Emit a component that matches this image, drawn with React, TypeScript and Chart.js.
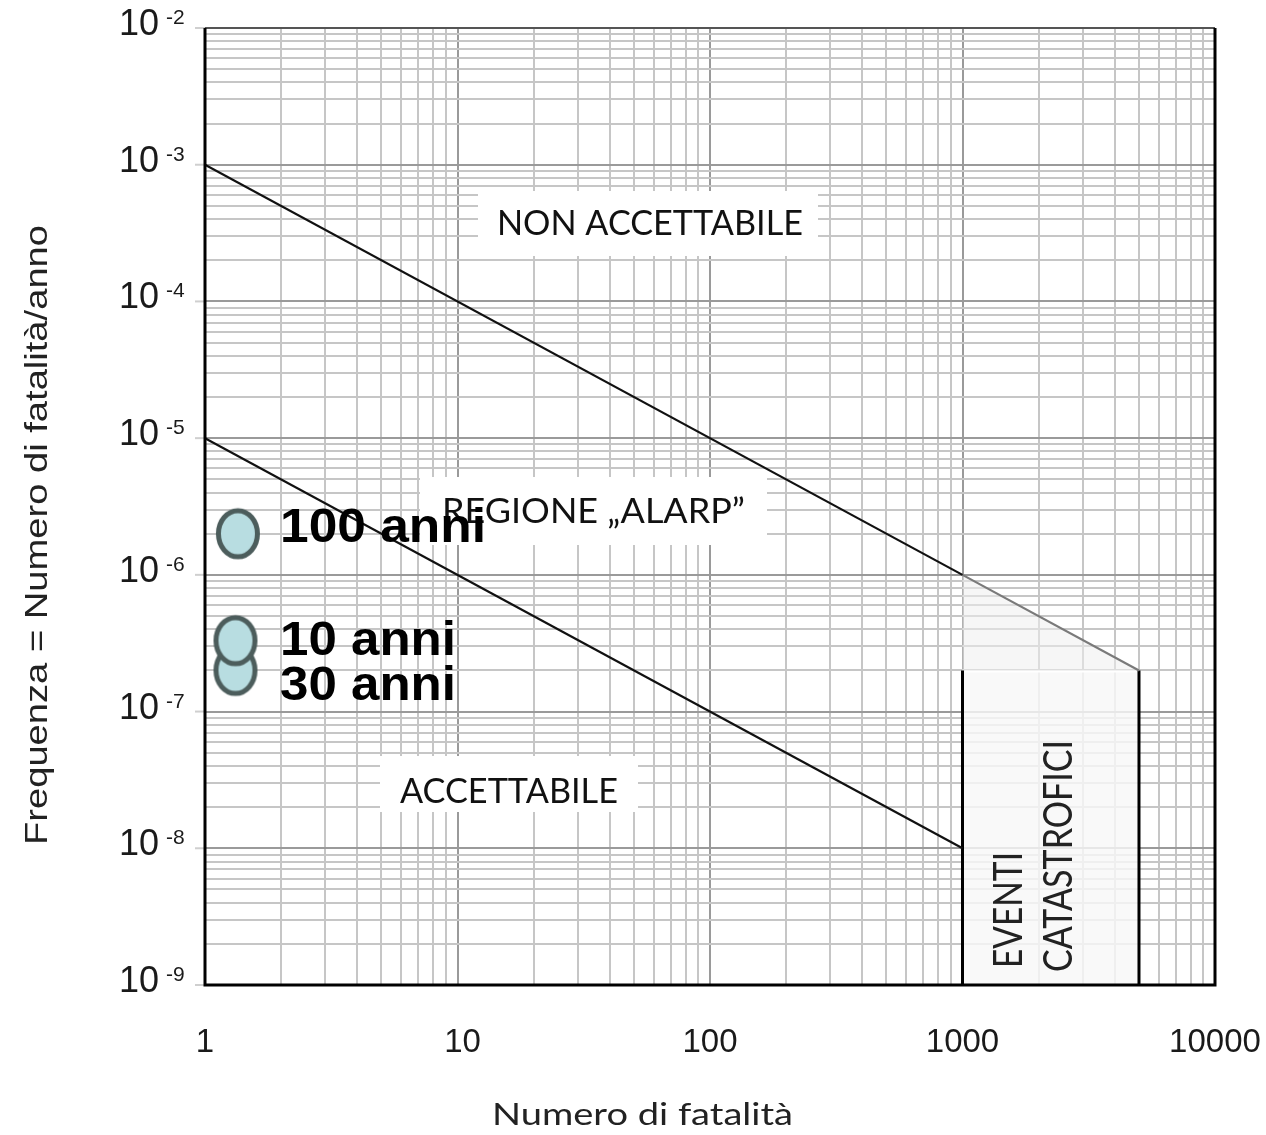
import React, { useEffect, useRef } from "react";
import { Chart, registerables } from "chart.js";

Chart.register(...registerables);

// ---- data ----
const xTickLabels = ["1", "10", "100", "1000", "10000"];
const xTickValues = [1, 10, 100, 1000, 10000];
const yTickExponents = [-2, -3, -4, -5, -6, -7, -8, -9];

const upperLimitX = [1, 1000];
const upperLimitY = [1e-3, 1e-6];
const upperExtX = [1000, 5000];
const upperExtY = [1e-6, 2e-7];
const lowerLimitX = [1, 1000];
const lowerLimitY = [1e-5, 1e-8];
const catastrophicX = [1000, 5000];
const catastrophicY = [1e-9, 2e-7];

const pointNames = ["100 anni", "30 anni", "10 anni"];
const pointX = [1.35, 1.32, 1.32];
const pointY = [2.0e-6, 2.0e-7, 3.3e-7];

const xTitle = "Numero di fatalità";
const yTitle = "Frequenza = Numero di fatalità/anno";
const regionLabels = ["NON ACCETTABILE", "REGIONE \u201EALARP\u201D", "ACCETTABILE"];
const catastrophicLabel = ["EVENTI", "CATASTROFICI"];

function gridValues(minExp: number, maxExp: number) {
  const out: number[] = [];
  for (let e = minExp; e < maxExp; e++) {
    for (let d = 1; d <= 9; d++) out.push(d * Math.pow(10, e));
  }
  out.push(Math.pow(10, maxExp));
  return out;
}

function isDecade(v: number) {
  const l = Math.log10(v);
  return Math.abs(l - Math.round(l)) < 1e-6;
}

function fitText(ctx: CanvasRenderingContext2D, text: string, x: number, y: number, font: string, width: number, rotate = false) {
  ctx.save();
  ctx.font = font;
  ctx.textAlign = "left";
  ctx.textBaseline = "alphabetic";
  const w = ctx.measureText(text).width;
  ctx.translate(x, y);
  if (rotate) ctx.rotate(-Math.PI / 2);
  ctx.scale(width / w, 1);
  ctx.fillText(text, 0, 0);
  ctx.restore();
}

function makeEllipse() {
  const c = document.createElement("canvas");
  c.width = 50;
  c.height = 56;
  const g = c.getContext("2d")!;
  g.beginPath();
  g.ellipse(25, 28, 19.5, 23, 0, 0, Math.PI * 2);
  g.fillStyle = "#b8dde1";
  g.fill();
  g.lineWidth = 5;
  g.strokeStyle = "#4c5d5c";
  g.stroke();
  return c;
}

const backgroundPlugin = {
  id: "bgAnnotations",
  beforeDatasetsDraw(chart: any) {
    const ctx = chart.ctx as CanvasRenderingContext2D;
    const xs = chart.scales.x;
    const ys = chart.scales.y;
    const area = chart.chartArea;
    ctx.save();
    // small stubs left of the axis at decades
    ctx.strokeStyle = "#cfcfcf";
    ctx.lineWidth = 2;
    yTickExponents.forEach((e) => {
      const py = ys.getPixelForValue(Math.pow(10, e));
      ctx.beginPath();
      ctx.moveTo(area.left - 10, py);
      ctx.lineTo(area.left, py);
      ctx.stroke();
    });
    // catastrophic trapezoid (above box)
    const x0 = xs.getPixelForValue(catastrophicX[0]);
    const x1 = xs.getPixelForValue(catastrophicX[1]);
    const yb = ys.getPixelForValue(catastrophicY[0]);
    const yt = ys.getPixelForValue(catastrophicY[1]);
    const ytop = ys.getPixelForValue(upperExtY[0]);
    ctx.beginPath();
    ctx.moveTo(x0, ytop);
    ctx.lineTo(x1, yt);
    ctx.lineTo(x0, yt);
    ctx.closePath();
    ctx.fillStyle = "rgba(238,238,238,0.55)";
    ctx.fill();
    // box
    ctx.fillStyle = "rgba(248,248,248,0.82)";
    ctx.fillRect(x0, yt, x1 - x0, yb - yt);
    ctx.strokeStyle = "#ffffff";
    ctx.lineWidth = 2;
    ctx.beginPath();
    ctx.moveTo(x0 + 2, yt + 1);
    ctx.lineTo(x1 - 2, yt + 1);
    ctx.stroke();
    ctx.strokeStyle = "#000";
    ctx.lineWidth = 3;
    ctx.beginPath();
    ctx.moveTo(x0, yt);
    ctx.lineTo(x0, yb);
    ctx.moveTo(x1, yt);
    ctx.lineTo(x1, yb);
    ctx.stroke();

    // white boxes behind region labels
    ctx.fillStyle = "#ffffff";
    ctx.fillRect(478, 191, 340, 65);
    ctx.fillRect(420, 477, 347, 68);
    ctx.fillRect(380, 756, 258, 56);

    ctx.fillStyle = "#111";
    fitText(ctx, regionLabels[0], 497, 235, "35px Lato", 306);
    fitText(ctx, regionLabels[1], 442, 523, "35px Lato", 303);
    fitText(ctx, regionLabels[2], 400, 803, "35px Lato", 218);

    ctx.fillStyle = "#222";
    fitText(ctx, catastrophicLabel[0], 1022, 968, "40px Lato", 116, true);
    fitText(ctx, catastrophicLabel[1], 1072, 972, "40px Lato", 232, true);
    ctx.restore();
  },
  afterDatasetsDraw(chart: any) {
    const ctx = chart.ctx as CanvasRenderingContext2D;
    const xs = chart.scales.x;
    const ys = chart.scales.y;
    const area = chart.chartArea;
    ctx.save();
    // point labels
    const meta = chart.getDatasetMeta(3);
    const offsets: Record<string, number> = { "100 anni": 8, "30 anni": 30, "10 anni": 14 };
    const widths: Record<string, number> = { "100 anni": 206, "30 anni": 176, "10 anni": 176 };
    ctx.fillStyle = "#000";
    meta.data.forEach((el: any, i: number) => {
      const name = pointNames[i];
      fitText(ctx, name, 280, el.y + offsets[name], "bold 49px 'Liberation Sans'", widths[name]);
    });

    // plot frame
    ctx.strokeStyle = "#555";
    ctx.lineWidth = 2;
    ctx.beginPath();
    ctx.moveTo(area.left, area.top);
    ctx.lineTo(area.right, area.top);
    ctx.stroke();
    ctx.strokeStyle = "#000";
    ctx.lineWidth = 3;
    ctx.beginPath();
    ctx.moveTo(area.left, area.top);
    ctx.lineTo(area.left, area.bottom);
    ctx.lineTo(area.right, area.bottom);
    ctx.lineTo(area.right, area.top);
    ctx.stroke();

    // x tick labels
    const xOff = [0, 5, 0, 0, 0];
    ctx.fillStyle = "#1a1a1a";
    ctx.font = "33px 'Liberation Sans'";
    ctx.textAlign = "center";
    ctx.textBaseline = "alphabetic";
    xTickValues.forEach((v, i) => {
      const px = xs.getPixelForValue(v) + xOff[i];
      ctx.fillText(xTickLabels[i], px, 1052);
    });

    // y tick labels
    yTickExponents.forEach((e) => {
      const py = ys.getPixelForValue(Math.pow(10, e));
      ctx.textAlign = "left";
      ctx.font = "36px 'Liberation Sans'";
      ctx.fillText("10", 119, py + 7);
      ctx.font = "21px 'Liberation Sans'";
      ctx.fillText(String(e), 166, py - 4);
    });

    // axis titles
    ctx.fillStyle = "#222";
    fitText(ctx, xTitle, 492, 1125, "30px Lato", 301);
    fitText(ctx, yTitle, 47, 845, "31px 'Liberation Sans'", 620, true);
    ctx.restore();
  },
};

export default function App() {
  const ref = useRef<HTMLCanvasElement | null>(null);
  useEffect(() => {
    if (!ref.current) return;
    const ellipse = makeEllipse();
    const toPts = (xs: number[], ys: number[]) => xs.map((x, i) => ({ x, y: ys[i] }));
    const chart = new Chart(ref.current, {
      type: "line",
      data: {
        datasets: [
          { data: toPts(upperLimitX, upperLimitY), borderColor: "#111", borderWidth: 2.2, pointRadius: 0, fill: false },
          { data: toPts(upperExtX, upperExtY), borderColor: "#7a7a7a", borderWidth: 2.2, pointRadius: 0, fill: false },
          { data: toPts(lowerLimitX, lowerLimitY), borderColor: "#111", borderWidth: 2.2, pointRadius: 0, fill: false },
          {
            type: "scatter",
            data: toPts(pointX, pointY),
            pointStyle: ellipse as any,
            pointRadius: 22,
            showLine: false,
          } as any,
        ],
      },
      options: {
        animation: false,
        responsive: true,
        maintainAspectRatio: false,
        layout: { padding: { left: 205, right: 51, top: 28, bottom: 150 } },
        plugins: { legend: { display: false }, tooltip: { enabled: false } },
        scales: {
          x: {
            type: "logarithmic",
            min: 1,
            max: 10000,
            afterBuildTicks: (s: any) => {
              s.ticks = gridValues(0, 4).map((v) => ({ value: v }));
            },
            ticks: { display: false },
            border: { display: false },
            grid: {
              drawTicks: false,
              tickLength: 0,
              lineWidth: 2,
              color: (c: any) => (isDecade(c.tick.value) ? "#9a9a9a" : "#c6c6c6"),
            },
          },
          y: {
            type: "logarithmic",
            min: 1e-9,
            max: 1e-2,
            afterBuildTicks: (s: any) => {
              s.ticks = gridValues(-9, -2).map((v) => ({ value: v }));
            },
            ticks: { display: false },
            border: { display: false },
            grid: {
              drawTicks: false,
              tickLength: 0,
              lineWidth: 2,
              color: (c: any) => (isDecade(c.tick.value) ? "#9a9a9a" : "#c6c6c6"),
            },
          },
        },
      },
      plugins: [backgroundPlugin],
    });
    return () => chart.destroy();
  }, []);
  return (
    <div style={{ position: "fixed", left: 0, top: 0, width: 1266, height: 1135, background: "#fff" }}>
      <canvas ref={ref} />
    </div>
  );
}
